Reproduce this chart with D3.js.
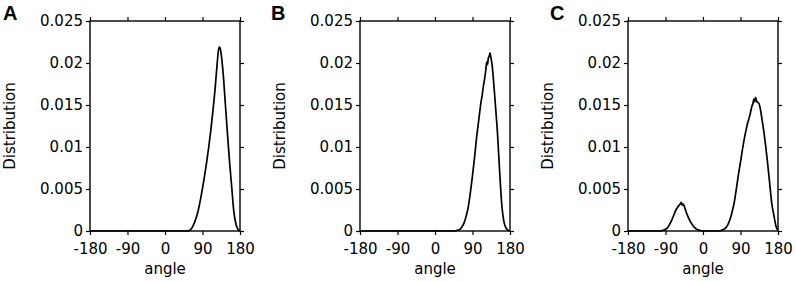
<!DOCTYPE html>
<html>
<head>
<meta charset="utf-8">
<script src="https://cdn.jsdelivr.net/npm/d3@7"></script>
<style>
  body { margin: 0; background: #fff; }
  svg text { font-family: "DejaVu Sans", sans-serif; fill: #000; }
</style>
</head>
<body>
<div id="chart"></div>
<script>
// tick values and labels shared by the three panels
var xTicks = [-180, -90, 0, 90, 180];
var yTicks = [0, 0.005, 0.01, 0.015, 0.02, 0.025];
var yTickLabels = ["0", "0.005", "0.01", "0.015", "0.02", "0.025"];
var panelLetters = ["A", "B", "C"];

// panel A: angle distribution
var aAngle = [-180, 50, 55, 60, 65, 70, 75, 80, 85, 90, 95, 100, 105, 110, 115, 120, 125, 128, 130, 132, 135, 140, 145, 150, 155, 160, 165, 170, 175, 180];
var aValue = [0, 0, 0.00003, 0.0001, 0.0004, 0.0009, 0.0016, 0.0025, 0.0037, 0.0051, 0.0066, 0.0082, 0.0100, 0.0120, 0.0143, 0.0168, 0.0198, 0.0214, 0.0219, 0.0218, 0.0210, 0.0185, 0.0150, 0.0115, 0.0082, 0.0053, 0.0024, 0.0009, 0.0002, 0];

// panel B
var bAngle = [-180, 45, 50, 55, 60, 65, 70, 75, 80, 85, 90, 95, 100, 105, 110, 113, 116, 119, 122, 124, 126, 128, 130, 132, 134, 137, 140, 145, 150, 155, 160, 165, 170, 175, 180];
var bValue = [0, 0, 0.00003, 0.0001, 0.0002, 0.0005, 0.0010, 0.0018, 0.0029, 0.0046, 0.0066, 0.0088, 0.0112, 0.0132, 0.0152, 0.0161, 0.0172, 0.0181, 0.0192, 0.0201, 0.0198, 0.0206, 0.0208, 0.0212, 0.0207, 0.0198, 0.0182, 0.0150, 0.0116, 0.0072, 0.0033, 0.0012, 0.0004, 0.0001, 0];

// panel C: two populations
var cAngle = [-180, -110, -100, -95, -90, -85, -80, -75, -70, -65, -60, -55, -52, -50, -47, -44, -40, -35, -30, -25, -20, -15, -10, -5, 0, 40, 45, 50, 55, 60, 65, 70, 75, 80, 85, 90, 95, 100, 105, 108, 111, 114, 117, 120, 122, 124, 126, 128, 130, 133, 137, 141, 145, 150, 155, 160, 165, 170, 175, 180];
var cValue = [0, 0, 0.00003, 0.0001, 0.0002, 0.0004, 0.0008, 0.0013, 0.0019, 0.0025, 0.0029, 0.0032, 0.0034, 0.0031, 0.0032, 0.0028, 0.0022, 0.0016, 0.0011, 0.0007, 0.0004, 0.0002, 0.0001, 0.00003, 0, 0, 0.0001, 0.0002, 0.0004, 0.0008, 0.0014, 0.0023, 0.0034, 0.0050, 0.0067, 0.0082, 0.0098, 0.0112, 0.0124, 0.0130, 0.0135, 0.0141, 0.0148, 0.0152, 0.0157, 0.0154, 0.0159, 0.0156, 0.0153, 0.0153, 0.0147, 0.0135, 0.0122, 0.0103, 0.0081, 0.0057, 0.0033, 0.0019, 0.0006, 0.0001];

var panels = [
    {angle: aAngle, value: aValue, left: 90,  letterX: 3},
    {angle: bAngle, value: bValue, left: 360, letterX: 271},
    {angle: cAngle, value: cValue, left: 628, letterX: 550}];

var plotW = 150, plotTop = 21, plotBottom = 231;

var svg = d3.select("#chart")
    .append("svg")
    .attr("width", 796)
    .attr("height", 281);

panels.forEach(function (p, i) {
    var x = d3.scaleLinear().domain([-180, 180]).range([p.left, p.left + plotW]);
    var y = d3.scaleLinear().domain([0, 0.025]).range([plotBottom, plotTop]);
    var g = svg.append("g");

    // axes with outward ticks, mirrored on top and right
    g.append("g")
        .attr("transform", "translate(" + p.left + ",0)")
        .call(d3.axisLeft(y).tickValues(yTicks).tickSizeInner(4).tickSizeOuter(0).tickPadding(3)
            .tickFormat(function (d, j) { return yTickLabels[j]; }));
    g.append("g")
        .attr("transform", "translate(0," + plotBottom + ")")
        .call(d3.axisBottom(x).tickValues(xTicks).tickSizeInner(4).tickSizeOuter(0).tickPadding(8)
            .tickFormat(function (d) { return String(d); }));
    g.append("g")
        .attr("transform", "translate(0," + plotTop + ")")
        .call(d3.axisTop(x).tickValues(xTicks).tickSizeInner(4).tickSizeOuter(0).tickFormat(""));
    g.append("g")
        .attr("transform", "translate(" + (p.left + plotW) + ",0)")
        .call(d3.axisRight(y).tickValues(yTicks).tickSizeInner(4).tickSizeOuter(0).tickFormat(""));

    g.selectAll(".domain").remove();
    g.selectAll(".tick line").attr("stroke", "#000").attr("stroke-width", 1.2);
    g.selectAll(".tick text").style("font-size", "15px").attr("fill", "#000");

    // frame
    g.append("rect")
        .attr("x", p.left)
        .attr("y", plotTop)
        .attr("width", plotW)
        .attr("height", plotBottom - plotTop)
        .attr("fill", "none")
        .attr("stroke", "#000")
        .attr("stroke-width", 1.4);

    // the distribution curve
    var pts = p.angle.map(function (a, j) { return [a, p.value[j]]; });
    g.append("path")
        .datum(pts)
        .attr("fill", "none")
        .attr("stroke", "#000")
        .attr("stroke-width", 1.7)
        .attr("stroke-linejoin", "round")
        .attr("d", d3.line()
            .x(function (d) { return x(d[0]); })
            .y(function (d) { return y(d[1]); })
            .curve(d3.curveMonotoneX));

    // axis labels
    g.append("text")
        .attr("text-anchor", "middle")
        .attr("x", p.left + plotW / 2)
        .attr("y", 273.5)
        .style("font-size", "15px")
        .text("angle");

    g.append("text")
        .attr("text-anchor", "middle")
        .attr("transform", "translate(" + (p.left - 75) + "," + ((plotTop + plotBottom) / 2) + ") rotate(-90)")
        .style("font-size", "15px")
        .text("Distribution");

    // panel letter
    g.append("text")
        .attr("x", p.letterX)
        .attr("y", 20)
        .style("font-family", "'Liberation Sans', Arial, sans-serif")
        .style("font-weight", "bold")
        .style("font-size", "20px")
        .text(panelLetters[i]);
});
</script>
</body>
</html>
